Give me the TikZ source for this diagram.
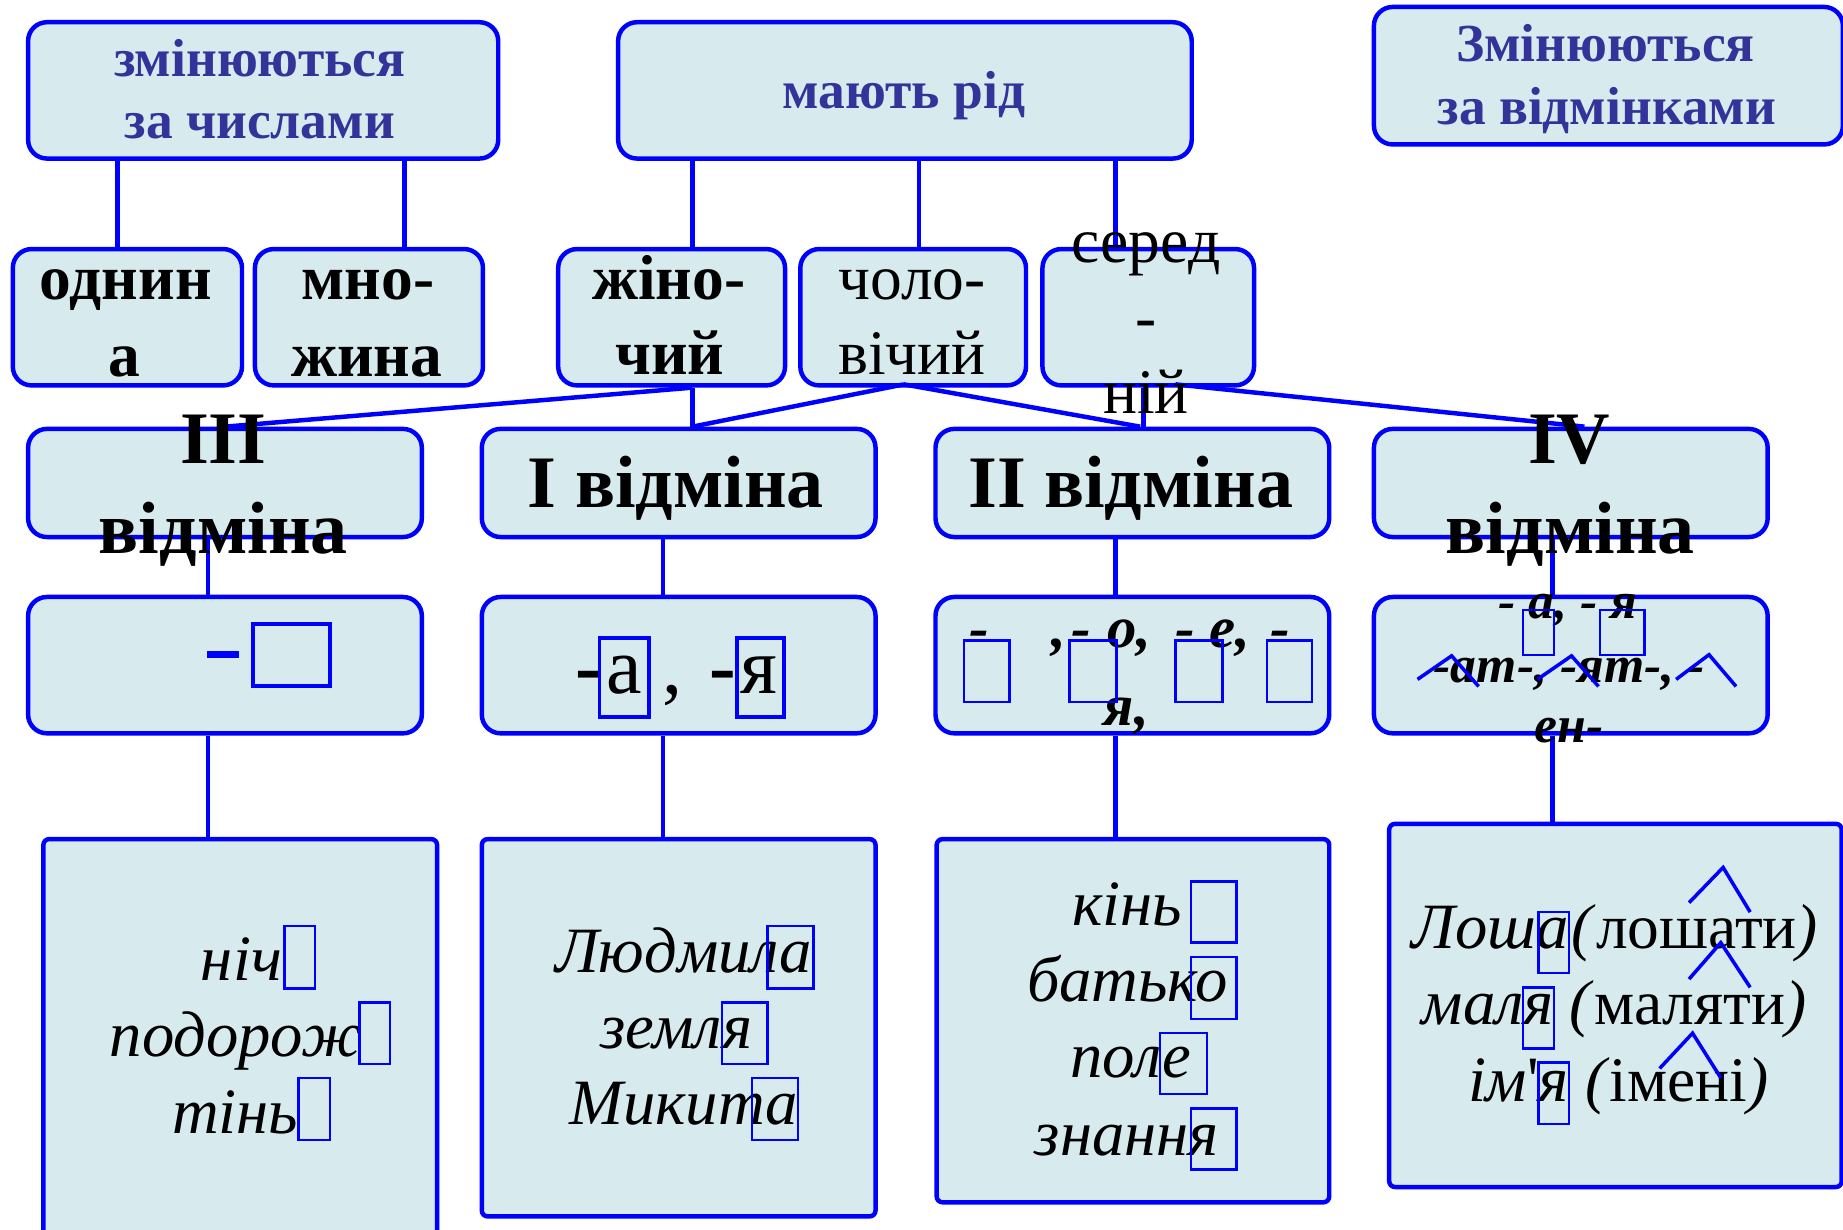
\documentclass[tikz,border=0pt]{standalone}
\usepackage{fontspec}
\setmainfont{Liberation Serif}
\newfontfamily\rawser{Liberation Serif}
\definecolor{bblue}{HTML}{0000FF}
\definecolor{bfill}{HTML}{D7EBEE}
\definecolor{ttl}{HTML}{333399}
\newcommand\setfs[1]{\fontsize{#1}{#1}\selectfont}
\begin{document}
\begin{tikzpicture}[x=1pt,y=-1pt,
  box/.style={draw=bblue,line width=3.8pt,fill=bfill,rounded corners=16pt,inner sep=0pt,anchor=north west},
  sqbox/.style={box,rounded corners=5pt},
  conn/.style={draw=bblue,line width=3.8pt},
  mbox/.style={draw=bblue,line width=2pt},
  caret/.style={draw=bblue,line width=3pt},
  txt/.style={inner sep=0pt,anchor=base},
  ttlt/.style={txt,text=ttl,font=\setfs{45.5}\bfseries},
  gen/.style={txt,font=\setfs{54}\bfseries},
  genr/.style={txt,font=\setfs{54}},
  dec/.style={txt,font=\setfs{63}\bfseries},
  endi/.style={txt,font=\setfs{68}},
  endii/.style={txt,font=\setfs{50}\bfseries\itshape},
  endiv/.style={txt,font=\setfs{44}\bfseries\itshape},
  ex/.style={txt,font=\setfs{55}\itshape},
  exr/.style={txt,font=\setfs{54}},
]
\useasboundingbox (0,0) rectangle (1568,1046);
% connector x positions
\foreach \n/\xx in {a/100,b/344,c/589,d/782,e/949,f/177,g/564,h/1321,k/973}
  \coordinate (x\n) at (\xx,0);
\coordinate (pch) at (769,327);
\coordinate (pse) at (1000,327);
\coordinate (pd2) at (970,363);
\coordinate (pd4) at (1348,363);

% boxes
\node[box,minimum width=400pt,minimum height=116pt] (zch) at (22,17) {};
\node[box,minimum width=488pt,minimum height=116pt] (mr) at (524,17) {};
\node[box,minimum width=399pt,minimum height=117pt] (zv) at (1167,4) {};
\node[box,minimum width=195pt,minimum height=116pt] (odn) at (9,210) {};
\node[box,minimum width=194pt,minimum height=116pt] (mnoz) at (215,210) {};
\node[box,minimum width=193pt,minimum height=116pt] (zhin) at (473,210) {};
\node[box,minimum width=192pt,minimum height=116pt] (chol) at (679,210) {};
\node[box,minimum width=180pt,minimum height=116pt] (ser) at (885,210) {};
\node[box,minimum width=335pt,minimum height=92pt] (d3) at (22,363) {};
\node[box,minimum width=335pt,minimum height=92pt] (d1) at (408,363) {};
\node[box,minimum width=335pt,minimum height=92pt] (d2) at (794,363) {};
\node[box,minimum width=335pt,minimum height=92pt] (d4) at (1167,363) {};
\node[box,minimum width=335pt,minimum height=116pt] (e3) at (22,506) {};
\node[box,minimum width=335pt,minimum height=116pt] (e1) at (408,506) {};
\node[box,minimum width=335pt,minimum height=116pt] (e2) at (794,506) {};
\node[box,minimum width=335pt,minimum height=116pt] (e4) at (1167,506) {};
\node[sqbox,minimum width=335pt,minimum height=340pt] (x3) at (35,712) {};
\node[sqbox,minimum width=335pt,minimum height=321pt] (x1) at (408,712) {};
\node[sqbox,minimum width=334pt,minimum height=309pt] (x2) at (795,712) {};
\node[sqbox,minimum width=385pt,minimum height=309pt] (x4) at (1180,699) {};

% connectors
\draw[conn] (zch.south -| xa) -- (odn.north -| xa);
\draw[conn] (zch.south -| xb) -- (mnoz.north -| xb);
\draw[conn] (mr.south -| xc) -- (zhin.north -| xc);
\draw[conn] (mr.south -| xd) -- (chol.north -| xd);
\draw[conn] (mr.south -| xe) -- (ser.north -| xe);
\draw[conn] (zhin.south -| xc) -- (d3.north);
\draw[conn] (zhin.south -| xc) -- (d1.north -| xc);
\draw[conn] (pch) -- (d1.north -| xc);
\draw[conn] (pch) -- (pd2);
\draw[conn] (ser.south -| xk) -- (d2.north -| xk);
\draw[conn] (pse) -- (pd4);
\draw[conn] (d3.south -| xf) -- (e3.north -| xf);
\draw[conn] (d1.south -| xg) -- (e1.north -| xg);
\draw[conn] (d2.south -| xe) -- (e2.north -| xe);
\draw[conn] (d4.south -| xh) -- (e4.north -| xh);
\draw[conn] (e3.south -| xf) -- (x3.north -| xf);
\draw[conn] (e1.south -| xg) -- (x1.north -| xg);
\draw[conn] (e2.south -| xe) -- (x2.north -| xe);
\draw[conn] (e4.south -| xh) -- (x4.north -| xh);

% titles
\node[ttlt] (t1a) at (221,65) {змінюються};
\node[ttlt] (t1b) at (221,118) {за числами};
\node[ttlt] (t2) at (769,92) {мають рід};
\node[ttlt] (t3a) at (1366,52) {Змінюються};
\node[ttlt] (t3b) at (1367,106) {за відмінками};

% row 2
\node[gen] (g1a) at (107,255) {однин};
\node[gen] (g1b) at (106,320) {а};
\node[gen] (g2a) at (313,255) {мно-};
\node[gen] (g2b) at (312,320) {жина};
\node[gen] (g3a) at (569,255) {жіно-};
\node[gen] (g3b) at (570,319) {чий};
\node[genr] (g4a) at (776,255) {чоло-};
\node[genr] (g4b) at (776,319) {вічий};
\node[genr] (g5a) at (975,223) {серед};
\node[genr] (g5b) at (975,288) {-};
\node[genr] (g5c) at (975,352) {ній};

% row 3
\node[dec] (v3a) at (190,394) {III};
\node[dec] (v3b) at (190,471) {відміна};
\node[dec] (v1) at (575,432) {I відміна};
\node[dec] (v2) at (962,432) {II відміна};
\node[dec] (v4a) at (1335,394) {IV};
\node[dec] (v4b) at (1336,471) {відміна};

% row 4, III
\fill[bblue] (176,554) rectangle (203,560);
\draw[draw=bblue,line width=3.5pt] (215,531) rectangle (281,584);
% row 4, I
\node[endi,font=\setfs{68}\bfseries] (r1a) at (501,590) {-};
\node[endi] (r1b) at (531,590) {а};
\node[endi] (r1c) at (572,590) {,};
\node[endi,font=\setfs{68}\bfseries] (r1d) at (615,590) {-};
\node[endi] (r1e) at (646,590) {я};
\draw[mbox,line width=3pt] (510,543) rectangle (552,610);
\draw[mbox,line width=3pt] (627,543) rectangle (667,610);
% row 4, II
\node[endii] (r2a) at (833,551) {-};
\node[endii] (r2b) at (901,551) {,};
\node[endii] (r2c) at (920,551) {-};
\node[endii,anchor=base west] (r2d) at (942,551) {о,};
\node[endii] (r2e) at (1008,551) {-};
\node[endii,anchor=base west] (r2f) at (1029,551) {е,};
\node[endii] (r2g) at (1089,551) {-};
\node[endii,anchor=base west] (r2h) at (939,617) {я,};
\draw[mbox] (820,545) rectangle (859,597);
\draw[mbox] (910,545) rectangle (950,597);
\draw[mbox] (1000,545) rectangle (1040,597);
\draw[mbox] (1078,545) rectangle (1116,597);
% row 4, IV
\node[endiv] (r4a) at (1334,526) {- а, - я};
\node[endiv] (r4b) at (1335,581) {-ат-, -ят-, -};
\node[endiv] (r4c) at (1335,632) {ен-};
\draw[mbox] (1296,519) rectangle (1322,557);
\draw[mbox] (1361,519) rectangle (1399,557);
\draw[caret] (1206,578) -- (1235,558) -- (1258,584);
\draw[caret] (1308,578) -- (1337,558) -- (1360,584);
\draw[caret] (1426,578) -- (1454,557) -- (1477,584);

% row 5, III
\node[ex,anchor=base east] (w3a) at (240,834) {ніч};
\node[ex,anchor=base east] (w3b) at (308,899) {подорож};
\node[ex,anchor=base east] (w3c) at (254,964) {тінь};
\draw[mbox] (242,788) rectangle (268,841);
\draw[mbox] (306,853) rectangle (332,905);
\draw[mbox] (254,917) rectangle (281,970);
% row 5, I
\node[ex,anchor=base east] (w1a) at (691,827) {Людмила};
\node[ex,anchor=base east] (w1b) at (640,892) {земля};
\node[ex,anchor=base east] (w1c) at (679,957) {Микита};
\draw[mbox] (653,788) rectangle (692,841);
\draw[mbox] (614,853) rectangle (653,905);
\draw[mbox] (640,917) rectangle (679,970);
% row 5, II
\node[ex,anchor=base east] (w2a) at (1006,787) {кінь};
\node[ex,anchor=base east] (w2b) at (1045,852) {батько};
\node[ex,anchor=base east] (w2c) at (1014,917) {поле};
\node[ex,anchor=base east] (w2d) at (1037,983) {знання};
\draw[mbox] (1013,750) rectangle (1052,802);
\draw[mbox] (1013,814) rectangle (1052,867);
\draw[mbox] (987,879) rectangle (1027,931);
\draw[mbox] (1013,943) rectangle (1052,995);
% row 5, IV
\node[ex,anchor=base east] (w4a) at (1335,807) {Лоша};
\node[exr,anchor=base west] (w4b) at (1337,807) {\textit{(}лошати\textit{)}};
\node[ex,anchor=base east] (w4c) at (1322,872) {маля};
\node[exr,anchor=base west] (w4d) at (1322,872) {\ \textit{(}маляти\textit{)}};
\node[ex,anchor=base east] (w4e) at (1335,937) {ім{\rawser\upshape'}я};
\node[exr,anchor=base west] (w4f) at (1335,937) {\ \textit{(}імені\textit{)}};
\draw[mbox] (1309,776) rectangle (1335,828);
\draw[mbox] (1296,840) rectangle (1322,892);
\draw[mbox] (1309,904) rectangle (1335,956);
\draw[caret] (1437,768) -- (1466,738) -- (1489,776);
\draw[caret] (1437,833) -- (1464,802) -- (1489,840);
\draw[caret] (1412,909) -- (1440,879) -- (1464,917);
\end{tikzpicture}
\end{document}
